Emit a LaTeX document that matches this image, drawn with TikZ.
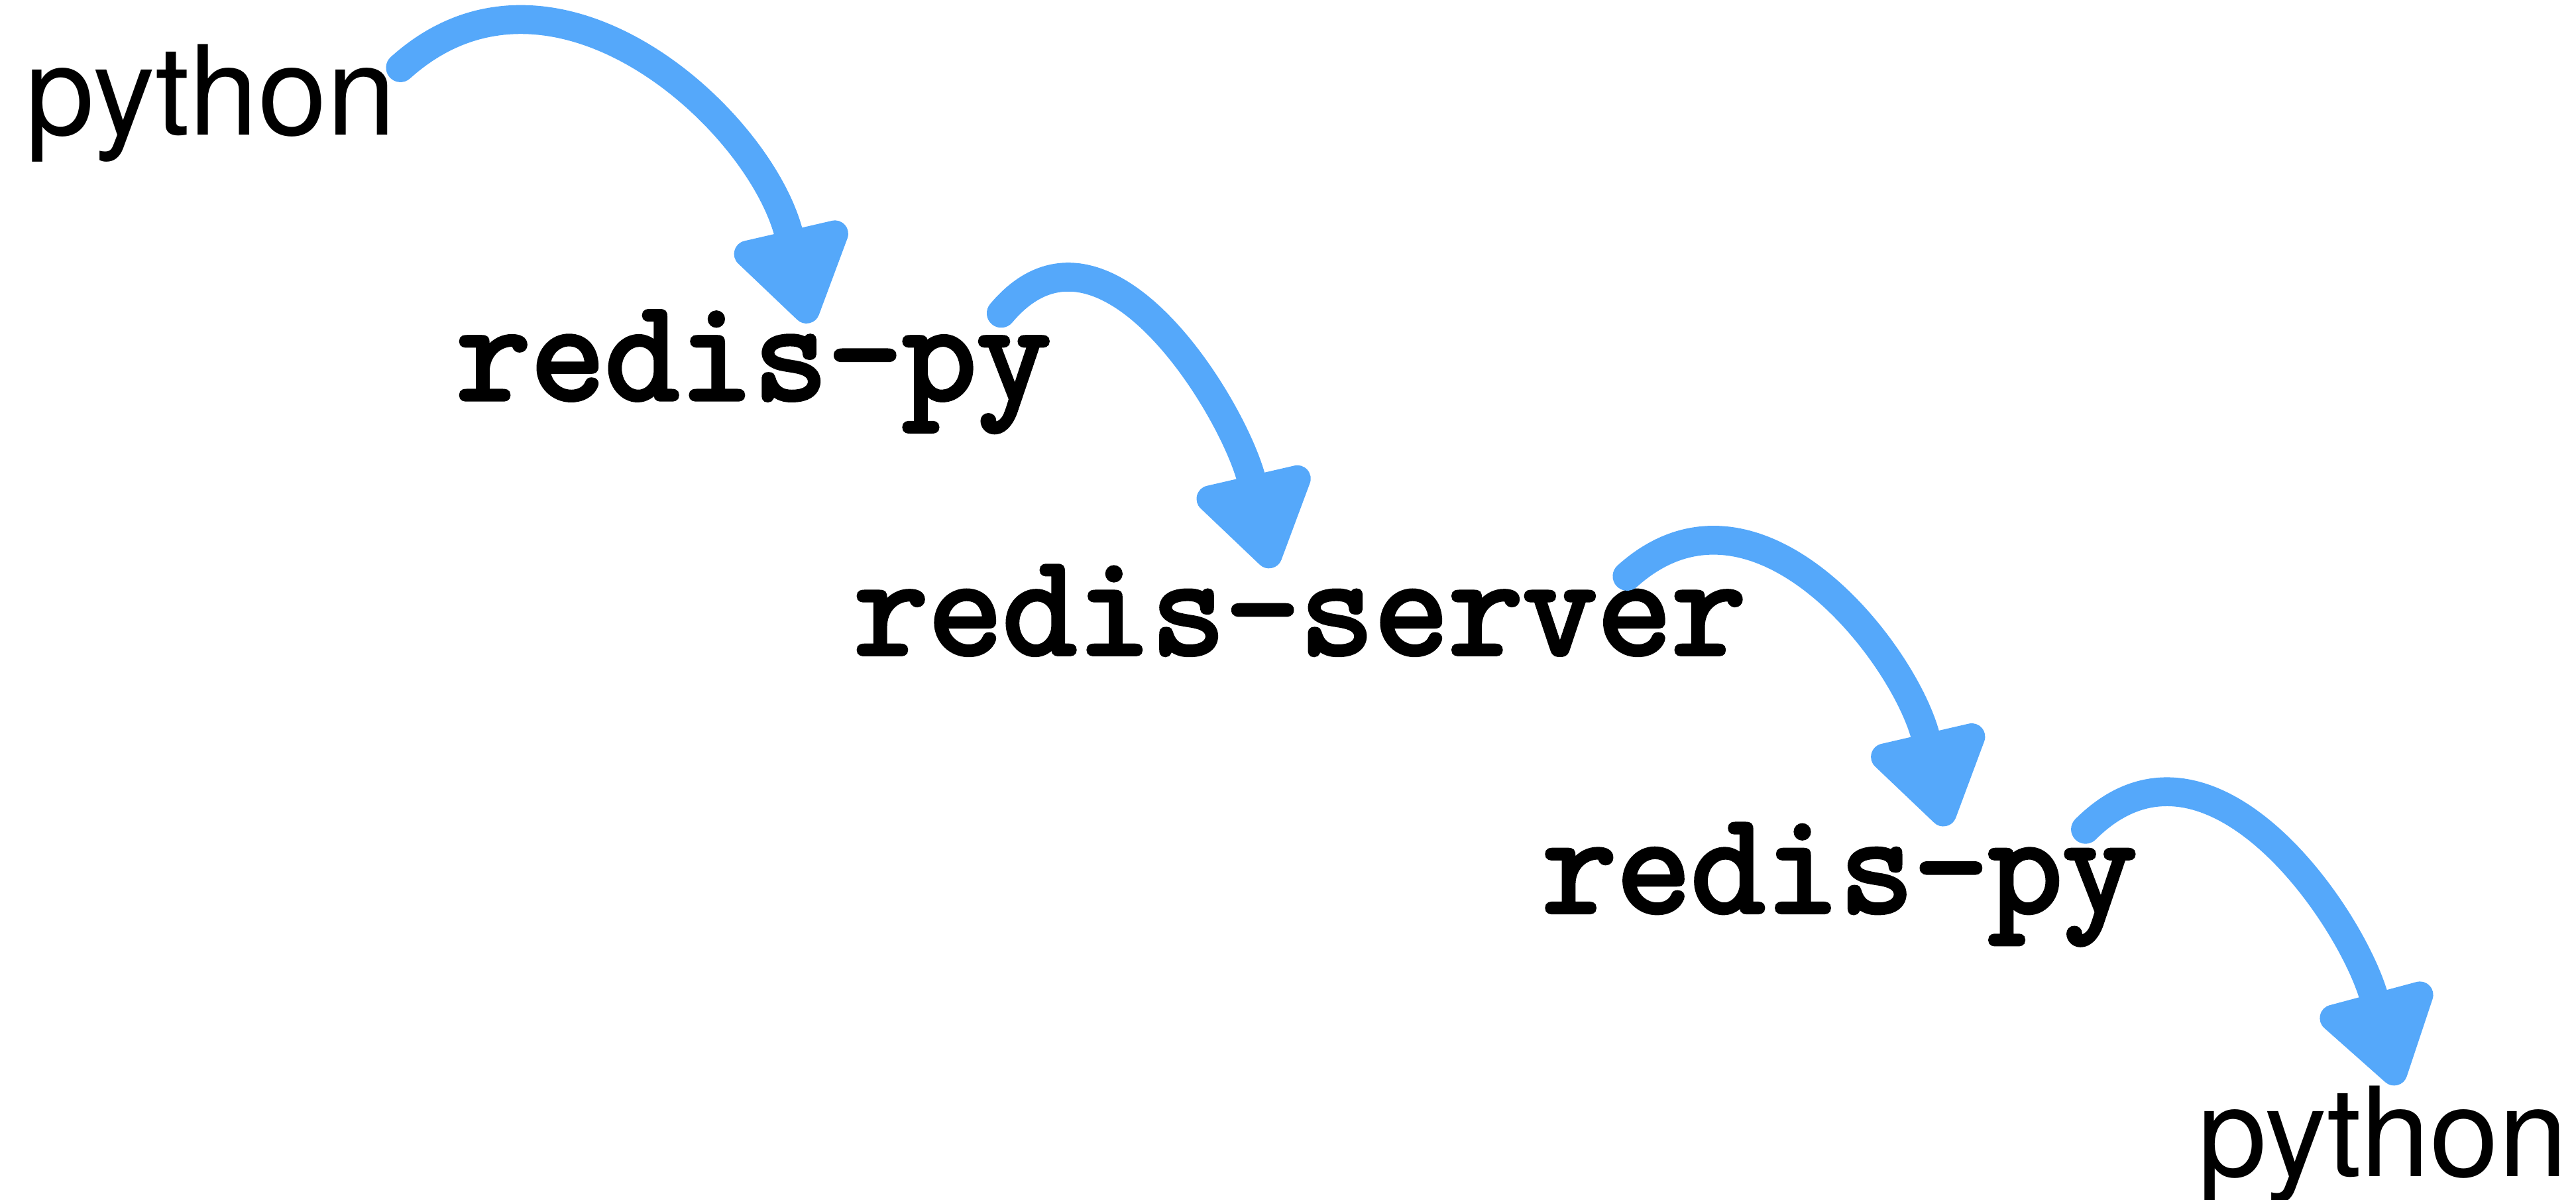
\documentclass[tikz,border=0pt]{standalone}
\usepackage{fontspec}
\setmainfont{TeX Gyre Heros}
\setmonofont{Latin Modern Mono}[AutoFakeBold=3]
\usepackage{xcolor}
\usepackage{tikz}
\usetikzlibrary{arrows.meta,calc}
\definecolor{chalkblue}{RGB}{85,168,250}

\begin{document}
\begin{tikzpicture}[transform shape,scale=1,
	lang/.style={inner sep=0pt,anchor=base west,font=\fontsize{21.5}{24}\selectfont},
	lib/.style={inner sep=0pt,anchor=base west,font=\fontsize{25}{29}\selectfont\ttfamily\bfseries},
	hop/.style={chalkblue,line width=5pt,line cap=round,looseness=1.1,-{Triangle[length=6.5mm,width=8mm,round]}}]
		\useasboundingbox (0,0) rectangle (15.68,7.30);
		% the stack, top to bottom
		\node[lang] (py1) at (0.15,6.48) {python};
		\node[lib] (rp1) at (2.77,4.87) {redis-py};
		\node[lib] (rs) at (5.19,3.32) {redis-server};
		\node[lib] (rp2) at (9.38,1.75) {redis-py};
		\node[lang] (py2) at (13.37,0.14) {python};
		% hops
		\draw[hop] ([xshift=0.02cm,yshift=-0.15cm]py1.north east) to[out=42,in=103] ([xshift=0.34cm,yshift=-0.08cm]rp1.north);
		\draw[hop] ([xshift=-0.31cm,yshift=-0.02cm]rp1.north east) to[out=50,in=103] ([xshift=-0.17cm,yshift=-0.02cm]rs.north);
		\draw[hop] ([xshift=-0.73cm,yshift=-0.07cm]rs.north east) to[out=42,in=103] ([xshift=0.65cm,yshift=-0.02cm]rp2.north);
		\draw[hop] ([xshift=-0.32cm,yshift=-0.04cm]rp2.north east) to[out=45,in=105] ([xshift=0.09cm,yshift=0.0cm]py2.north);
\end{tikzpicture}
\end{document}
